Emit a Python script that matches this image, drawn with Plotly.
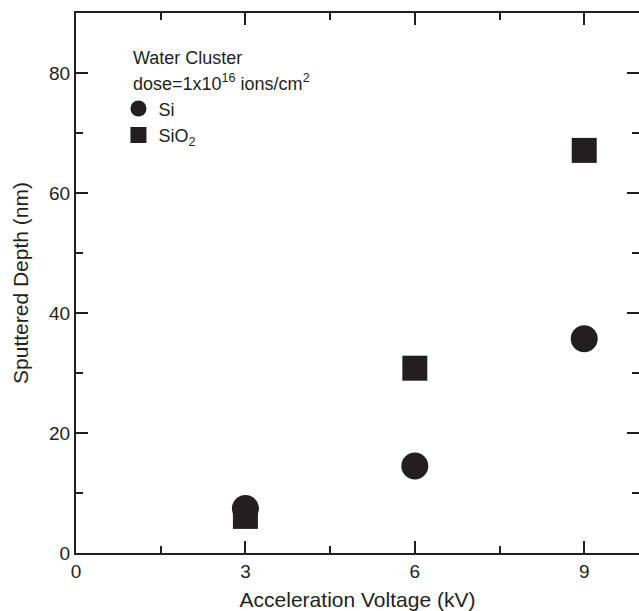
import plotly.graph_objects as go

voltage = [3, 6, 9]
si_depth = [7.4, 14.5, 35.7]
sio2_depth = [6.1, 30.8, 67.1]

x_ticks = [0, 3, 6, 9]
y_ticks = [0, 20, 40, 60, 80]

INK = "#231f20"
FONT = "Liberation Sans, Arial, sans-serif"

W, H = 639, 611
L, T, R = 75.5, 12.7, 0
B = H - 552.7
PW, PH = W - L - R, H - T - B


def px_x(p):  # page pixel -> paper x
    return (p - L) / PW


def px_y(p):  # page pixel -> paper y
    return (H - B - p) / PH


fig = go.Figure()
fig.add_trace(go.Scatter(x=voltage, y=sio2_depth, mode="markers", name="SiO<sub>2</sub>",
                         marker=dict(symbol="square", size=25, color=INK)))
fig.add_trace(go.Scatter(x=voltage, y=si_depth, mode="markers", name="Si",
                         marker=dict(symbol="circle", size=27, color=INK)))

axis_common = dict(showline=True, linecolor=INK, linewidth=2, mirror="allticks",
                   ticks="inside", ticklen=12, tickwidth=1.8, tickcolor=INK,
                   showgrid=False, zeroline=False, automargin=False,
                   tickfont=dict(family=FONT, size=19, color=INK))

fig.update_layout(
    width=W, height=H,
    margin=dict(l=L, r=R, t=T, b=B, pad=0, autoexpand=False),
    paper_bgcolor="white", plot_bgcolor="white",
    font=dict(family=FONT, color=INK),
    xaxis=dict(range=[0, 9.97], tickvals=x_ticks, ticktext=[str(v) for v in x_ticks],
               minor=dict(dtick=1.5, tick0=0, ticks="inside", ticklen=7, tickwidth=1.8, tickcolor=INK),
               title=dict(text="Acceleration Voltage (kV)", font=dict(family=FONT, size=21, color=INK)),
               **axis_common),
    yaxis=dict(range=[0, 90], tickvals=y_ticks, ticktext=[str(v) for v in y_ticks],
               minor=dict(dtick=10, tick0=0, ticks="inside", ticklen=7, tickwidth=1.8, tickcolor=INK),
               title=dict(text="Sputtered Depth (nm)", font=dict(family=FONT, size=21, color=INK)),
               **axis_common),
    legend=dict(x=px_x(118), y=px_y(90), xanchor="left", yanchor="top", bgcolor="rgba(0,0,0,0)",
                font=dict(family=FONT, size=18, color=INK), traceorder="reversed",
                itemsizing="trace", tracegroupgap=0),
    showlegend=True,
)

fig.add_annotation(xref="paper", yref="paper", x=px_x(131), y=px_y(58),
                   xanchor="left", yanchor="middle", showarrow=False, align="left",
                   text="Water Cluster", font=dict(family=FONT, size=18, color=INK))
fig.add_annotation(xref="paper", yref="paper", x=px_x(131), y=px_y(82),
                   xanchor="left", yanchor="middle", showarrow=False, align="left",
                   text="dose=1x10<sup>16</sup> ions/cm<sup>2</sup>", font=dict(family=FONT, size=18, color=INK))

fig.write_html(
    "out.html",
    config={"responsive": False, "displayModeBar": False},
    post_script="document.body.style.margin='0';document.body.style.overflow='hidden';",
)
